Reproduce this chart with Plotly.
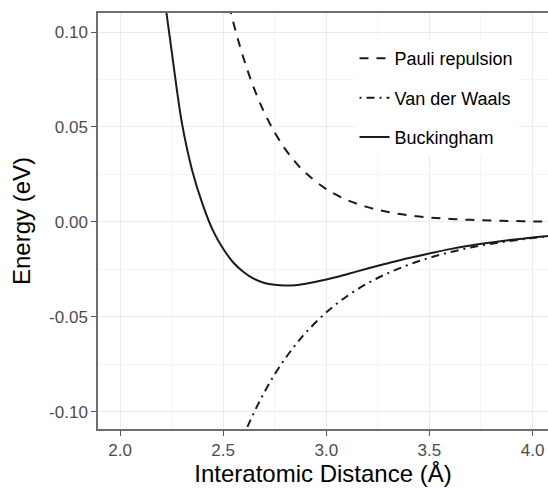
import plotly.graph_objects as go

# Interatomic distance (Å)
r = [2.20, 2.25, 2.30, 2.35, 2.40, 2.45, 2.50, 2.55, 2.60, 2.65, 2.70, 2.75,
     2.80, 2.85, 2.90, 3.00, 3.10, 3.20, 3.30, 3.40, 3.50, 3.60, 3.70, 3.80,
     3.90, 4.00, 4.10]

# Energies (eV)
pauli = [0.425, 0.348, 0.285, 0.233, 0.191, 0.156, 0.128, 0.1047, 0.0858, 0.0702,
         0.0575, 0.0471, 0.0385, 0.0315, 0.0258, 0.0173, 0.0116, 0.0078, 0.0052,
         0.0035, 0.0023, 0.0016, 0.0011, 0.0007, 0.0005, 0.0003, 0.0002]
vdw = [-0.306, -0.2675, -0.2344, -0.206, -0.1816, -0.1604, -0.1421, -0.1262, -0.1123,
       -0.1002, -0.0896, -0.0802, -0.0720, -0.0648, -0.0583, -0.0476, -0.0391,
       -0.0323, -0.0269, -0.0225, -0.0189, -0.0159, -0.0135, -0.0115, -0.0099,
       -0.0085, -0.0073]
buck = [0.130, 0.090, 0.052, 0.027, 0.0094, -0.0044, -0.0141, -0.0215, -0.0265,
        -0.0300, -0.0321, -0.0331, -0.0335, -0.0333, -0.0325, -0.0303, -0.0275,
        -0.0245, -0.0217, -0.0190, -0.0166, -0.0143, -0.0124, -0.0108, -0.0094,
        -0.0082, -0.0071]

x_ticks = [2.0, 2.5, 3.0, 3.5, 4.0]
x_labels = ["2.0", "2.5", "3.0", "3.5", "4.0"]
y_ticks = [-0.10, -0.05, 0.00, 0.05, 0.10]
y_labels = ["-0.10", "-0.05", "0.00", "0.05", "0.10"]

FONT = "Liberation Sans, Arial, sans-serif"
LINE = "#1a1a1a"

fig = go.Figure()
fig.add_trace(go.Scatter(x=r, y=pauli, mode="lines", name="Pauli repulsion",
                         legendgroup="a",
                         line=dict(color=LINE, width=2, dash="9px,8px", shape="spline")))
fig.add_trace(go.Scatter(x=r, y=vdw, mode="lines", name="Van der Waals",
                         legendgroup="b",
                         line=dict(color=LINE, width=2, dash="2px,5px,8px,5px", shape="spline")))
fig.add_trace(go.Scatter(x=r, y=buck, mode="lines", name="Buckingham",
                         legendgroup="c",
                         line=dict(color=LINE, width=2, shape="spline")))

axis_common = dict(
    showgrid=True, gridcolor="#EBEBEB", gridwidth=1.3,
    zeroline=False,
    ticks="outside", ticklen=5, tickwidth=1.3, tickcolor="#555555",
    tickfont=dict(family=FONT, size=17, color="#4D4D4D"),
    showline=True, linecolor="#6e6e6e", linewidth=1.5,
)

fig.update_xaxes(
    range=[1.893, 4.075],
    tickvals=x_ticks, ticktext=x_labels,
    minor=dict(dtick=0.25, tick0=0, showgrid=True, gridcolor="#F4F4F4", gridwidth=1, ticks=""),
    mirror=True,
    title=dict(text="Interatomic Distance (Å)", font=dict(family=FONT, size=24, color="#000000"), standoff=5),
    **axis_common,
)
fig.update_yaxes(
    range=[-0.109, 0.110],
    tickvals=y_ticks, ticktext=y_labels,
    minor=dict(dtick=0.025, tick0=0, showgrid=True, gridcolor="#F4F4F4", gridwidth=1, ticks=""),
    mirror=False,
    title=dict(text="Energy (eV)", font=dict(family=FONT, size=24, color="#000000"), standoff=12),
    **axis_common,
)

fig.update_layout(
    width=548, height=489,
    margin=dict(l=98, r=0, t=13, b=60),
    paper_bgcolor="white", plot_bgcolor="white",
    showlegend=True,
    legend=dict(
        x=0.57, y=0.935, xanchor="left", yanchor="top",
        bgcolor="white", borderwidth=0,
        font=dict(family=FONT, size=18, color="#000000"),
        traceorder="grouped", tracegroupgap=13,
        itemwidth=30,
    ),
)

fig.write_html("out.html")
